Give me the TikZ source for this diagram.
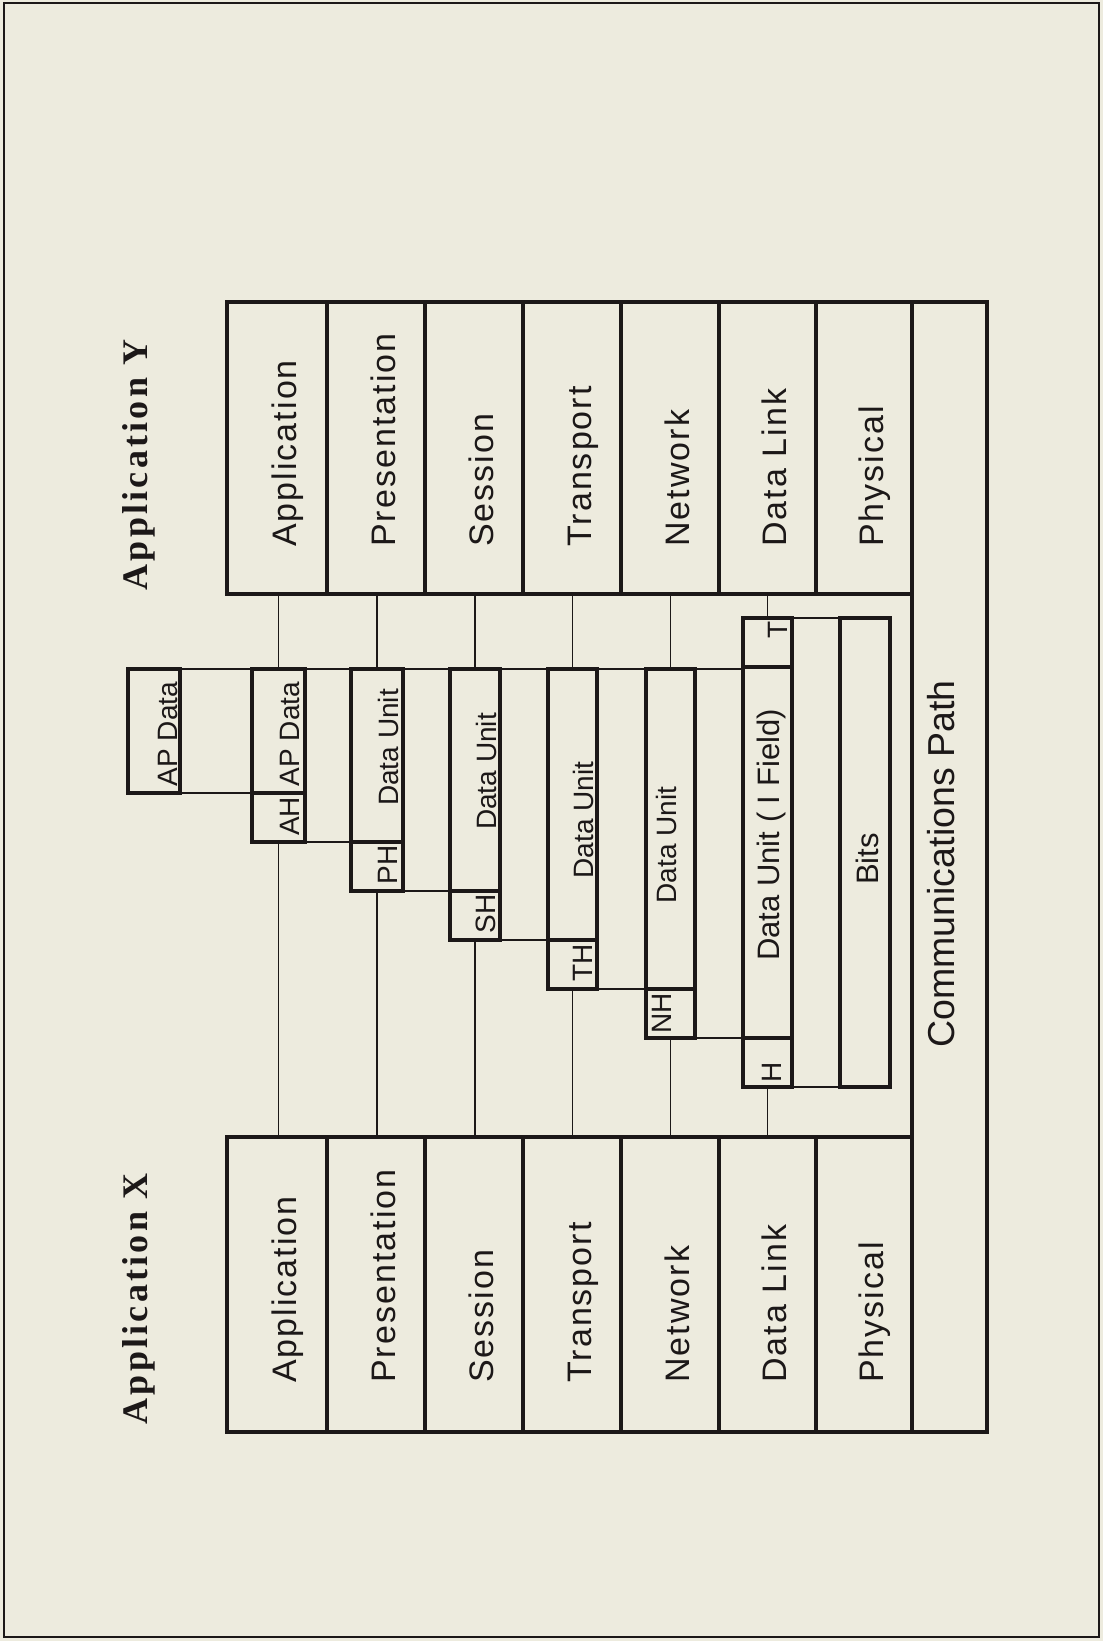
\documentclass[tikz,border=0pt]{standalone}
\usepackage{fontspec}
\setmainfont{Liberation Sans}
\newfontfamily\headfont[LetterSpace=9]{Liberation Serif}
\newfontfamily\layerfont[LetterSpace=6]{Liberation Sans}
\definecolor{paper}{RGB}{237,235,222}
\definecolor{ink}{RGB}{28,24,24}
\begin{document}
\begin{tikzpicture}[x=1pt,y=-1pt,
  heavy/.style={draw=ink,line width=3.6pt},
  light/.style={draw=ink,line width=2.2pt},
  wire/.style={draw=ink,line width=1.5pt},
  vtext/.style={rotate=90,inner sep=0pt,text=ink},
  title/.style={vtext,font=\headfont\bfseries\fontsize{36}{36}\selectfont},
  layer/.style={vtext,anchor=base west,font=\layerfont\fontsize{34}{34}\selectfont},
  pdu/.style={vtext,font=\fontsize{28}{28}\selectfont},
  pdubig/.style={vtext,font=\fontsize{#1}{#1}\selectfont},
]
% paper and frame
\path[use as bounding box,fill=paper] (0,0) rectangle (1103,1641);
\draw[ink,line width=2.4pt] (4,3) rectangle (1099,1637);

% the two layer stacks and the shared communications path
\draw[heavy] (227,302) rectangle (912,594);
\draw[heavy] (227,1137) rectangle (912,1432);
\draw[heavy] (912,302) rectangle (987,1432);
\foreach \x in {327,425,523,621,719,816}{
  \draw[heavy] (\x,302) -- (\x,594);
  \draw[heavy] (\x,1137) -- (\x,1432);
}

% layer names
\foreach \c/\name [count=\i] in {277/Application,376/Presentation,474/Session,572/Transport,670/Network,767.5/Data Link,864.5/Physical}{
  \node[layer] (ly\i) at (\c+19,547) {\name};
  \node[layer] (lx\i) at (\c+19,1383) {\name};
}

% titles
\node[title] (appY) at (139,465) {Application Y};
\node[title] (appX) at (139,1299) {Application X};

% links between data units
\draw[light] (180,669) rectangle (252,793);
\draw[light] (305,669) rectangle (351,842);
\draw[light] (403,669) rectangle (450,891);
\draw[light] (500,669) rectangle (548,940);
\draw[light] (597,669) rectangle (646,989);
\draw[light] (695,669) rectangle (743,1038);
\draw[light] (792,618) rectangle (840,1087);

% data units with their headers
\draw[heavy] (128,669) rectangle (180,793);
\draw[heavy] (252,669) rectangle (305,842) (252,793) -- (305,793);
\draw[heavy] (351,669) rectangle (403,891) (351,842) -- (403,842);
\draw[heavy] (450,669) rectangle (500,940) (450,891) -- (500,891);
\draw[heavy] (548,669) rectangle (597,989) (548,940) -- (597,940);
\draw[heavy] (646,669) rectangle (695,1038) (646,989) -- (695,989);
\draw[heavy] (743,618) rectangle (792,1087) (743,1038) -- (792,1038) (743,667) -- (792,667);
\draw[heavy] (840,618) rectangle (890,1087);

% attachment points of the layer lines
\foreach \c/\t/\b [count=\i] in {278.5/669/842,377/669/891,475/669/940,572.5/669/989,670.5/669/1038,767.5/618/1087}{
  \coordinate (yb\i) at (\c,594);
  \coordinate (ut\i) at (\c,\t);
  \coordinate (ub\i) at (\c,\b);
  \coordinate (xt\i) at (\c,1137);
  \draw[wire] (yb\i) -- (ut\i);
  \draw[wire] (ub\i) -- (xt\i);
}

% unit labels
\node[pdu] (ap0) at (168.5,734) {AP Data};
\node[pdu] (ap1) at (290,734) {AP Data};
\node[pdu] (ah) at (290,816.5) {AH};
\node[pdu] (du2) at (388.5,747.5) {Data Unit};
\node[pdu] (ph) at (388,865) {PH};
\node[pdu] (du3) at (486.5,771.5) {Data Unit};
\node[pdu] (sh) at (486,914) {SH};
\node[pdu] (du4) at (583.5,820) {Data Unit};
\node[pdu] (th) at (583,962.5) {TH};
\node[pdu] (du5) at (666,845) {Data Unit};
\node[pdu] (nh) at (661.5,1013) {NH};
\node[pdubig=31] (du6) at (771.5,835) {Data Unit ( I Field)};
\node[pdu] (dh) at (771.5,1072) {H};
\node[pdu] (dt) at (778,630) {T};
\node[pdubig=31] (bits) at (867,859) {Bits};
\node[pdubig=37.5] (comm) at (941,864) {Communications Path};
\end{tikzpicture}
\end{document}
